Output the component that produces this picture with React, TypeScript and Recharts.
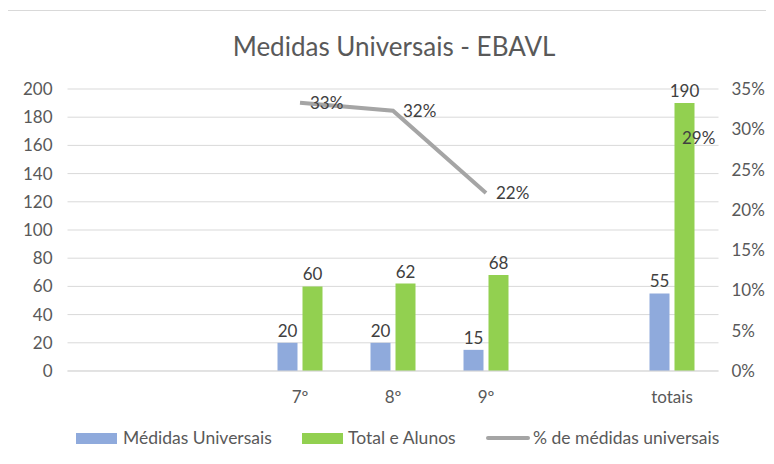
// @ts-nocheck
import React from 'react';
import {
  ComposedChart,
  Bar,
  Line,
  XAxis,
  YAxis,
  CartesianGrid,
  LabelList,
} from 'recharts';

const categories = ['', ' ', '7º', '8º', '9º', '  ', 'totais'];
const medidas = [null, null, 20, 20, 15, null, 55];
const totalAlunos = [null, null, 60, 62, 68, null, 190];
const percentMedidas = [null, null, 0.333, 0.323, 0.221, null, 0.289];
const leftTicks = [0, 20, 40, 60, 80, 100, 120, 140, 160, 180, 200];
const rightTicks = [0, 0.05, 0.1, 0.15, 0.2, 0.25, 0.3, 0.35];

const C = {
  blue: '#8faadc',
  green: '#92d050',
  gray: '#a5a5a5',
  grid: '#d9d9d9',
  text: '#595959',
  label: '#404040',
};

const FONT = 'Lato, "Open Sans", sans-serif';

const chartData = categories.map((c, i) => ({
  category: c,
  medidas: medidas[i],
  total: totalAlunos[i],
  pct: percentMedidas[i],
}));

const pctFmt = (v) => (v == null ? '' : `${Math.round(v * 100)}%`);
const numFmt = (v) => (v == null ? '' : v);

const LegendBox = () => (
  <div style={{ position: 'absolute', left: 0, top: 428, width: 774, height: 20, fontFamily: FONT, fontSize: 17.5, color: C.text }}>
    <div style={{ position: 'absolute', left: 76, top: 5, width: 41, height: 11, background: C.blue }} />
    <span style={{ position: 'absolute', left: 123, top: 0, lineHeight: '20px' }}>Médidas Universais</span>
    <div style={{ position: 'absolute', left: 302, top: 5, width: 41, height: 11, background: C.green }} />
    <span style={{ position: 'absolute', left: 348, top: 0, lineHeight: '20px' }}>Total e Alunos</span>
    <div style={{ position: 'absolute', left: 486, top: 8, width: 44, height: 4, borderRadius: 2, background: C.gray }} />
    <span style={{ position: 'absolute', left: 533, top: 0, lineHeight: '20px' }}>% de médidas universais</span>
  </div>
);

export default function App() {
  return (
    <div style={{ position: 'relative', margin: -8, width: 774, height: 464, background: '#fff', overflow: 'hidden' }}>
      <div style={{ position: 'absolute', left: 7, top: 10, width: 780, height: 470, border: `1px solid ${C.grid}`, boxSizing: 'border-box' }} />
      <div style={{ position: 'absolute', left: 0, width: 788, top: 30, textAlign: 'center', fontFamily: FONT, fontSize: 26, color: C.text }}>
        Medidas Universais - EBAVL
      </div>
      <div style={{ position: 'absolute', left: 0, top: 0 }}>
        <ComposedChart
          width={774}
          height={464}
          data={chartData}
          margin={{ top: 89, right: 0.5, left: 7.5, bottom: 53 }}
          barSize={20}
          barGap={5}
          style={{ fontFamily: FONT }}
        >
          <CartesianGrid yAxisId="left" horizontal vertical={false} stroke={C.grid} />
          <XAxis
            dataKey="category"
            height={40}
            tickLine={false}
            axisLine={{ stroke: C.grid }}
            tickMargin={14}
            interval={0}
            tick={{ fontSize: 17, fill: C.text }}
          />
          <YAxis
            yAxisId="left"
            width={60}
            domain={[0, 200]}
            ticks={leftTicks}
            axisLine={false}
            tickLine={false}
            tickSize={0}
            tickMargin={15}
            tick={{ fontSize: 17, fill: C.text }}
          />
          <YAxis
            yAxisId="right"
            orientation="right"
            width={55}
            domain={[0, 0.35]}
            ticks={rightTicks}
            tickFormatter={(v) => `${Math.round(v * 100)}%`}
            axisLine={false}
            tickLine={false}
            tickSize={0}
            tickMargin={13}
            tick={{ fontSize: 17, fill: C.text, textAnchor: 'start' }}
          />
          <Bar yAxisId="left" dataKey="medidas" name="Médidas Universais" fill={C.blue} isAnimationActive={false}>
            <LabelList dataKey="medidas" position="top" offset={6} formatter={numFmt} style={{ fontSize: 17, fill: C.label }} />
          </Bar>
          <Bar yAxisId="left" dataKey="total" name="Total e Alunos" fill={C.green} isAnimationActive={false}>
            <LabelList dataKey="total" position="top" offset={6} formatter={numFmt} style={{ fontSize: 17, fill: C.label }} />
          </Bar>
          <Line
            yAxisId="right"
            dataKey="pct"
            name="% de médidas universais"
            stroke={C.gray}
            strokeWidth={4}
            strokeLinecap="butt"
            dot={false}
            activeDot={false}
            connectNulls={false}
            isAnimationActive={false}
          >
            <LabelList dataKey="pct" position="right" offset={10} formatter={pctFmt} style={{ fontSize: 17, fill: C.label }} />
          </Line>
        </ComposedChart>
      </div>
      <LegendBox />
    </div>
  );
}
